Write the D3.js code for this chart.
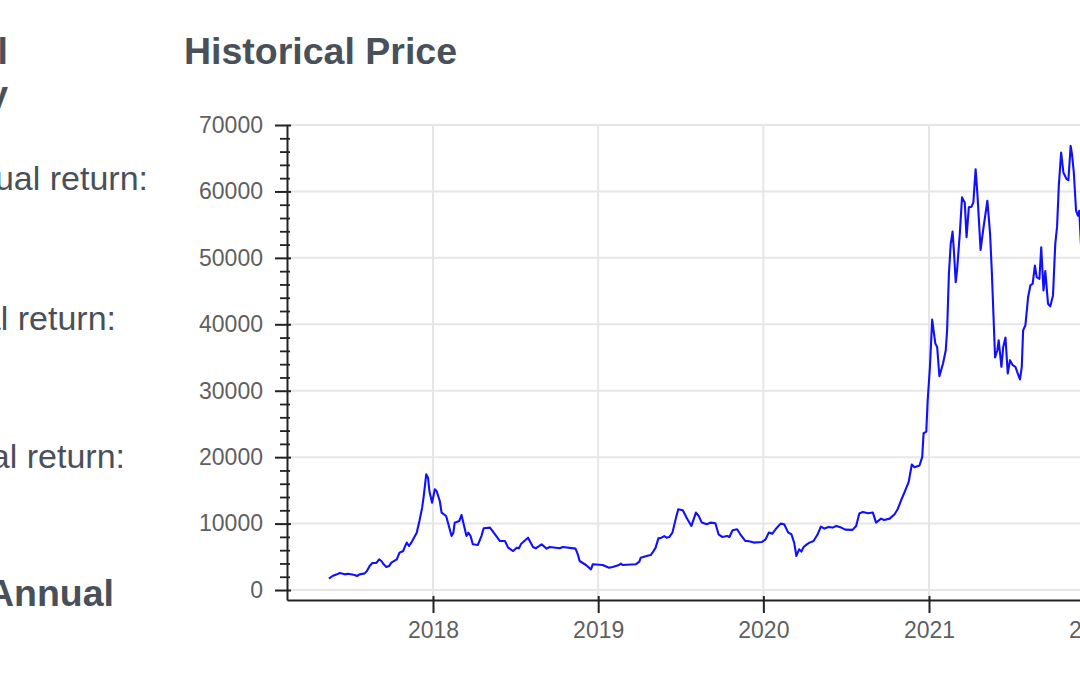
<!DOCTYPE html>
<html>
<head>
<meta charset="utf-8">
<script src="https://cdn.jsdelivr.net/npm/d3@7"></script>
<style>
  html, body { margin: 0; padding: 0; background: #fff; overflow: hidden; }
  svg { display: block; font-family: "Liberation Sans", Arial, sans-serif; }
</style>
</head>
<body>
<div id="viz-1"></div>
<script>
const containerId = 'viz-1';

// weekly-ish closing prices
const dates = [
  "2017-05-16","2017-05-24","2017-06-03","2017-06-09","2017-06-20","2017-06-27","2017-07-12","2017-07-17",
  "2017-07-23","2017-08-03","2017-08-08","2017-08-14","2017-08-20","2017-08-29","2017-09-04","2017-09-09",
  "2017-09-14","2017-09-20","2017-09-26","2017-10-01","2017-10-13","2017-10-19","2017-10-27","2017-10-30",
  "2017-11-04","2017-11-09","2017-11-14","2017-11-20","2017-11-26","2017-12-02","2017-12-08","2017-12-12",
  "2017-12-17","2017-12-21","2017-12-24","2017-12-30","2018-01-05","2018-01-09","2018-01-16","2018-01-20",
  "2018-01-30","2018-02-04","2018-02-11","2018-02-15","2018-02-18","2018-02-28","2018-03-05","2018-03-09",
  "2018-03-16","2018-03-20","2018-03-25","2018-03-30","2018-04-10","2018-04-18","2018-04-23","2018-05-07",
  "2018-05-18","2018-05-29","2018-06-09","2018-06-16","2018-06-27","2018-07-05","2018-07-10","2018-07-15",
  "2018-07-30","2018-08-10","2018-08-16","2018-08-29","2018-09-09","2018-09-16","2018-10-08","2018-10-15",
  "2018-11-12","2018-11-17","2018-11-21","2018-12-05","2018-12-16","2018-12-20","2019-01-11","2019-01-25",
  "2019-02-02","2019-02-16","2019-02-20","2019-02-24","2019-03-25","2019-04-02","2019-04-05","2019-04-20",
  "2019-04-27","2019-05-01","2019-05-08","2019-05-14","2019-05-21","2019-05-27","2019-06-01","2019-06-07",
  "2019-06-14","2019-06-22","2019-06-27","2019-07-07","2019-07-16","2019-07-26","2019-08-05","2019-08-11",
  "2019-08-18","2019-08-29","2019-09-06","2019-09-17","2019-09-24","2019-10-02","2019-10-13","2019-10-18",
  "2019-10-25","2019-11-04","2019-11-11","2019-11-22","2019-11-28","2019-12-11","2019-12-29","2020-01-06",
  "2020-01-13","2020-01-21","2020-01-28","2020-02-08","2020-02-16","2020-02-25","2020-03-03","2020-03-09",
  "2020-03-14","2020-03-20","2020-03-25","2020-03-30","2020-04-06","2020-04-12","2020-04-21","2020-04-30",
  "2020-05-07","2020-05-15","2020-05-24","2020-06-02","2020-06-10","2020-06-21","2020-06-30","2020-07-16",
  "2020-07-24","2020-07-31","2020-08-08","2020-08-19","2020-08-30","2020-09-06","2020-09-17","2020-09-24",
  "2020-10-06","2020-10-17","2020-10-24","2020-11-01","2020-11-08","2020-11-17","2020-11-24","2020-11-30",
  "2020-12-11","2020-12-17","2020-12-20","2020-12-26","2020-12-29","2021-01-03","2021-01-08","2021-01-15",
  "2021-01-19","2021-01-24","2021-02-01","2021-02-07","2021-02-10","2021-02-14","2021-02-18","2021-02-22",
  "2021-02-25","2021-03-01","2021-03-04","2021-03-10","2021-03-15","2021-03-21","2021-03-25","2021-03-30",
  "2021-04-05","2021-04-09","2021-04-14","2021-04-18","2021-04-25","2021-05-01","2021-05-10","2021-05-16",
  "2021-05-20","2021-05-25","2021-05-27","2021-06-01","2021-06-04","2021-06-10","2021-06-14","2021-06-19",
  "2021-06-24","2021-06-29","2021-07-05","2021-07-11","2021-07-16","2021-07-21","2021-07-25","2021-07-28",
  "2021-08-02","2021-08-08","2021-08-13","2021-08-18","2021-08-23","2021-08-27","2021-09-02","2021-09-06",
  "2021-09-11","2021-09-15","2021-09-21","2021-09-26","2021-10-02","2021-10-07","2021-10-11","2021-10-15",
  "2021-10-20","2021-10-25","2021-11-01","2021-11-05","2021-11-10","2021-11-13","2021-11-17","2021-11-22",
  "2021-11-26","2021-11-29","2021-12-04","2021-12-10"
];
const prices = [
  1710, 2110, 2360, 2560, 2360, 2460, 2260, 2110,
  2360, 2510, 2860, 3610, 4070, 4070, 4620, 4370,
  3870, 3460, 3610, 4120, 4620, 5620, 5870, 6380,
  7130, 6630, 7130, 7880, 8630, 10390, 12400, 14410,
  17420, 16920, 14910, 13150, 15160, 14910, 13400, 11650,
  11140, 9890, 8130, 8630, 10140, 10390, 11300, 10140,
  8130, 8630, 8130, 6880, 6780, 8130, 9290, 9390,
  8380, 7380, 7380, 6380, 5870, 6380, 6280, 6980,
  7880, 6480, 6280, 6880, 6230, 6480, 6280, 6480,
  6230, 5370, 4370, 3770, 3110, 3870, 3770, 3360,
  3460, 3770, 3970, 3770, 3870, 4270, 4870, 5170,
  5270, 5620, 6380, 7780, 7880, 8130, 7880, 7980,
  8630, 10900, 12160, 12010, 10800, 9650, 11660, 11160,
  10150, 9900, 10150, 10050, 8390, 7990, 8140, 7990,
  9000, 9150, 8390, 7390, 7390, 7140, 7240, 7640,
  8640, 8490, 9150, 10000, 9900, 8640, 8390, 7140,
  5130, 6130, 5780, 6480, 6880, 7140, 7390, 8390,
  9550, 9250, 9500, 9400, 9650, 9400, 9100, 9050,
  9650, 11510, 11760, 11560, 11660, 10150, 10750, 10550,
  10750, 11410, 12200, 13600, 14750, 16250, 18900, 18500,
  18750, 20000, 23600, 23850, 28500, 33500, 40700, 37100,
  36600, 32200, 34100, 36100, 39100, 47600, 52100, 53950,
  51100, 46350, 48100, 53600, 59100, 58350, 53100, 57600,
  57700, 58350, 63350, 59600, 51200, 54350, 58600, 53600,
  47600, 38600, 35000, 36100, 37600, 33600, 36600, 38000,
  32600, 34600, 33850, 33600, 32600, 31700, 33600, 39100,
  39850, 44100, 45850, 46100, 48850, 47100, 46850, 51600,
  45100, 48000, 43100, 42700, 44350, 52100, 54700, 61100,
  65850, 62850, 61850, 61700, 66850, 65600, 62850, 57100,
  56350, 57100, 50400, 48500
];

const yTicks = [0, 10000, 20000, 30000, 40000, 50000, 60000, 70000];
const xTickYears = [2018, 2019, 2020, 2021, 2022];

const chartTitle = "Historical Price";
const sideHeading = ["Historical", "Summary"];
const sideLabels = ["Average annual return:", "Total return:", "Nominal return:"];
const sideFooter = "Annual";

function main() {
  const width = 1080;
  const height = 675;
  const left = 287, top = 125, bottom = 600, right = 1160;

  const svg = d3.select('#' + containerId).append('svg')
    .attr('width', width)
    .attr('height', height)
    .attr('viewBox', `0 0 ${width} ${height}`);

  // left column text (clipped by the page edge)
  const side = svg.append('g').attr('fill', '#4a5059');
  side.selectAll('text.head').data(sideHeading).join('text')
    .attr('class', 'head')
    .attr('x', 8)
    .attr('y', (d, i) => 64 + i * 43)
    .attr('text-anchor', 'end')
    .attr('font-size', 37.5)
    .attr('font-weight', 'bold')
    .text(d => d);
  const labelPos = [[148, 190], [116, 330], [125, 468]];
  side.selectAll('text.lab').data(sideLabels).join('text')
    .attr('class', 'lab')
    .attr('x', (d, i) => labelPos[i][0])
    .attr('y', (d, i) => labelPos[i][1])
    .attr('text-anchor', 'end')
    .attr('font-size', 34)
    .text(d => d);
  side.append('text')
    .attr('x', 114).attr('y', 606)
    .attr('text-anchor', 'end')
    .attr('font-size', 37.5).attr('font-weight', 'bold')
    .text(sideFooter);

  svg.append('text')
    .attr('x', 184).attr('y', 64)
    .attr('font-size', 37.5).attr('font-weight', 'bold')
    .attr('fill', '#4a5059')
    .text(chartTitle);

  // scales
  const x0 = d3.scaleUtc()
    .domain([new Date(Date.UTC(2018, 0, 1)), new Date(Date.UTC(2021, 0, 1))])
    .range([433, 929]);
  const xScale = d3.scaleUtc()
    .domain([x0.invert(left), x0.invert(right)])
    .range([left, right]);
  const yScale = d3.scaleLinear()
    .domain([-1500, 70000])
    .range([bottom, top]);

  const yearDates = xTickYears.map(y => new Date(Date.UTC(y, 0, 1)));

  // grid
  const grid = svg.append('g').attr('stroke', '#e6e6e6').attr('stroke-width', 2);
  grid.selectAll('line.h').data(yTicks).join('line')
    .attr('class', 'h')
    .attr('x1', left).attr('x2', right)
    .attr('y1', d => yScale(d)).attr('y2', d => yScale(d));
  grid.selectAll('line.v').data(yearDates).join('line')
    .attr('class', 'v')
    .attr('x1', d => xScale(d)).attr('x2', d => xScale(d))
    .attr('y1', top).attr('y2', bottom);

  // price line
  const parse = d3.utcParse('%Y-%m-%d');
  const series = dates.map((d, i) => ({ date: parse(d), price: prices[i] }));
  const line = d3.line()
    .x(d => xScale(d.date))
    .y(d => yScale(d.price));
  svg.append('path')
    .datum(series)
    .attr('d', line)
    .attr('fill', 'none')
    .attr('stroke', '#1010ff')
    .attr('stroke-width', 2.1)
    .attr('stroke-linejoin', 'round');

  // y axis
  const minor = d3.range(2000, 70000, 2000).filter(v => v % 10000 !== 0);
  const yMinor = svg.append('g')
    .attr('transform', `translate(${left},0)`)
    .call(d3.axisLeft(yScale).tickValues(minor).tickSize(7).tickFormat(''));
  yMinor.select('.domain').remove();
  yMinor.selectAll('.tick line').attr('x1', 3).attr('stroke', '#222').attr('stroke-width', 1.8);

  const yAxis = svg.append('g')
    .attr('transform', `translate(${left},0)`)
    .call(d3.axisLeft(yScale).tickValues(yTicks).tickSize(12).tickSizeOuter(0).tickPadding(12).tickFormat(d3.format('d')));
  yAxis.select('.domain').attr('stroke', '#222').attr('stroke-width', 2);
  yAxis.selectAll('.tick line').attr('x1', 4).attr('stroke', '#222').attr('stroke-width', 2);
  yAxis.selectAll('.tick text')
    .attr('font-size', 23).attr('fill', '#5f5f5f')
    .attr('font-family', '"Liberation Sans", Arial, sans-serif');

  // x axis
  const xAxis = svg.append('g')
    .attr('transform', `translate(0,${bottom})`)
    .call(d3.axisBottom(xScale).tickValues(yearDates).tickSize(13).tickSizeOuter(0).tickPadding(8.5)
      .tickFormat(d3.utcFormat('%Y')));
  xAxis.select('.domain').attr('stroke', '#222').attr('stroke-width', 2);
  xAxis.selectAll('.tick line').attr('y1', -4).attr('stroke', '#222').attr('stroke-width', 2);
  xAxis.selectAll('.tick text')
    .attr('font-size', 23).attr('fill', '#5f5f5f')
    .attr('font-family', '"Liberation Sans", Arial, sans-serif');
}

main();
</script>
</body>
</html>
